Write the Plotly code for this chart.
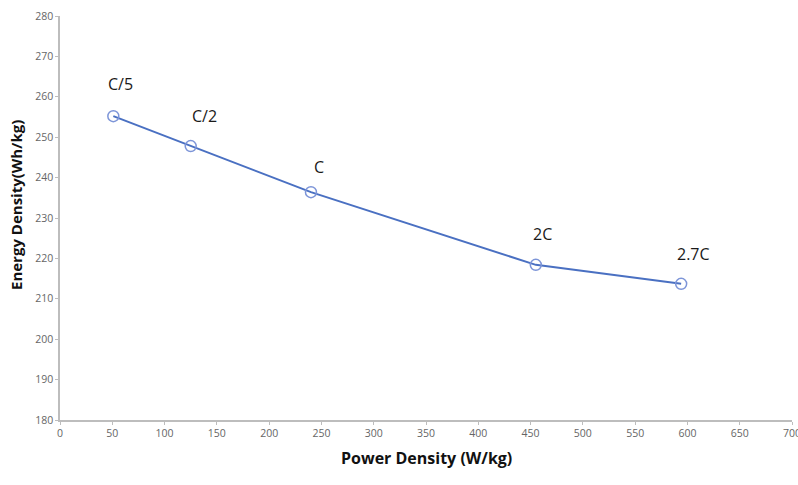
import plotly.graph_objects as go

power_density = [51, 125, 240, 455, 594]
energy_density = [255.2, 247.8, 236.4, 218.4, 213.7]
rate_labels = ["C/5", "C/2", "C", "2C", "2.7C"]
x_ticks = list(range(0, 701, 50))
y_ticks = list(range(180, 281, 10))

fig = go.Figure()
fig.add_trace(go.Scatter(
    x=power_density, y=energy_density, mode="lines+markers",
    line=dict(color="#4a70c2", width=2),
    marker=dict(symbol="circle-open", size=11, color="#7d95d8", line=dict(width=1.5)),
    showlegend=False,
))
label_offsets = [(7, -32), (14, -30), (8, -25), (7, -31), (12, -30)]
for xv, yv, t, (dx, dy) in zip(power_density, energy_density, rate_labels, label_offsets):
    fig.add_annotation(x=xv, y=yv, text=t, showarrow=False, xshift=dx, yshift=-dy,
                       font=dict(family="Open Sans", size=16, color="#1a1a1a"))

axis_common = dict(showgrid=False, zeroline=False, showline=True, linecolor="#bdbdbd",
                   linewidth=1.5, ticks="outside", ticklen=3, tickcolor="#bdbdbd",
                   automargin=False, ticklabeloverflow="allow",
                   tickfont=dict(family="Open Sans", size=10.5, color="#666"))
fig.update_xaxes(range=[0, 700], tickvals=x_ticks, **axis_common)
fig.update_yaxes(range=[180, 280], tickvals=y_ticks, **axis_common)

fig.add_annotation(xref="paper", yref="paper", x=(426 - 60) / 732, y=(420 - 458) / 404,
                   xanchor="center", yanchor="middle",
                   text="<b>Power Density (W/kg)</b>", showarrow=False,
                   font=dict(family="Open Sans", size=16, color="#111"))
fig.add_annotation(xref="paper", yref="paper", x=(16 - 60) / 732, y=(420 - 205) / 404,
                   xanchor="center", yanchor="middle",
                   text="<b>Energy Density(Wh/kg)</b>", showarrow=False, textangle=-90,
                   font=dict(family="Open Sans", size=15, color="#111"))

fig.update_layout(width=798, height=485, margin=dict(l=60, r=6, t=16, b=65),
                  plot_bgcolor="white", paper_bgcolor="white")
fig.write_html("out.html")
